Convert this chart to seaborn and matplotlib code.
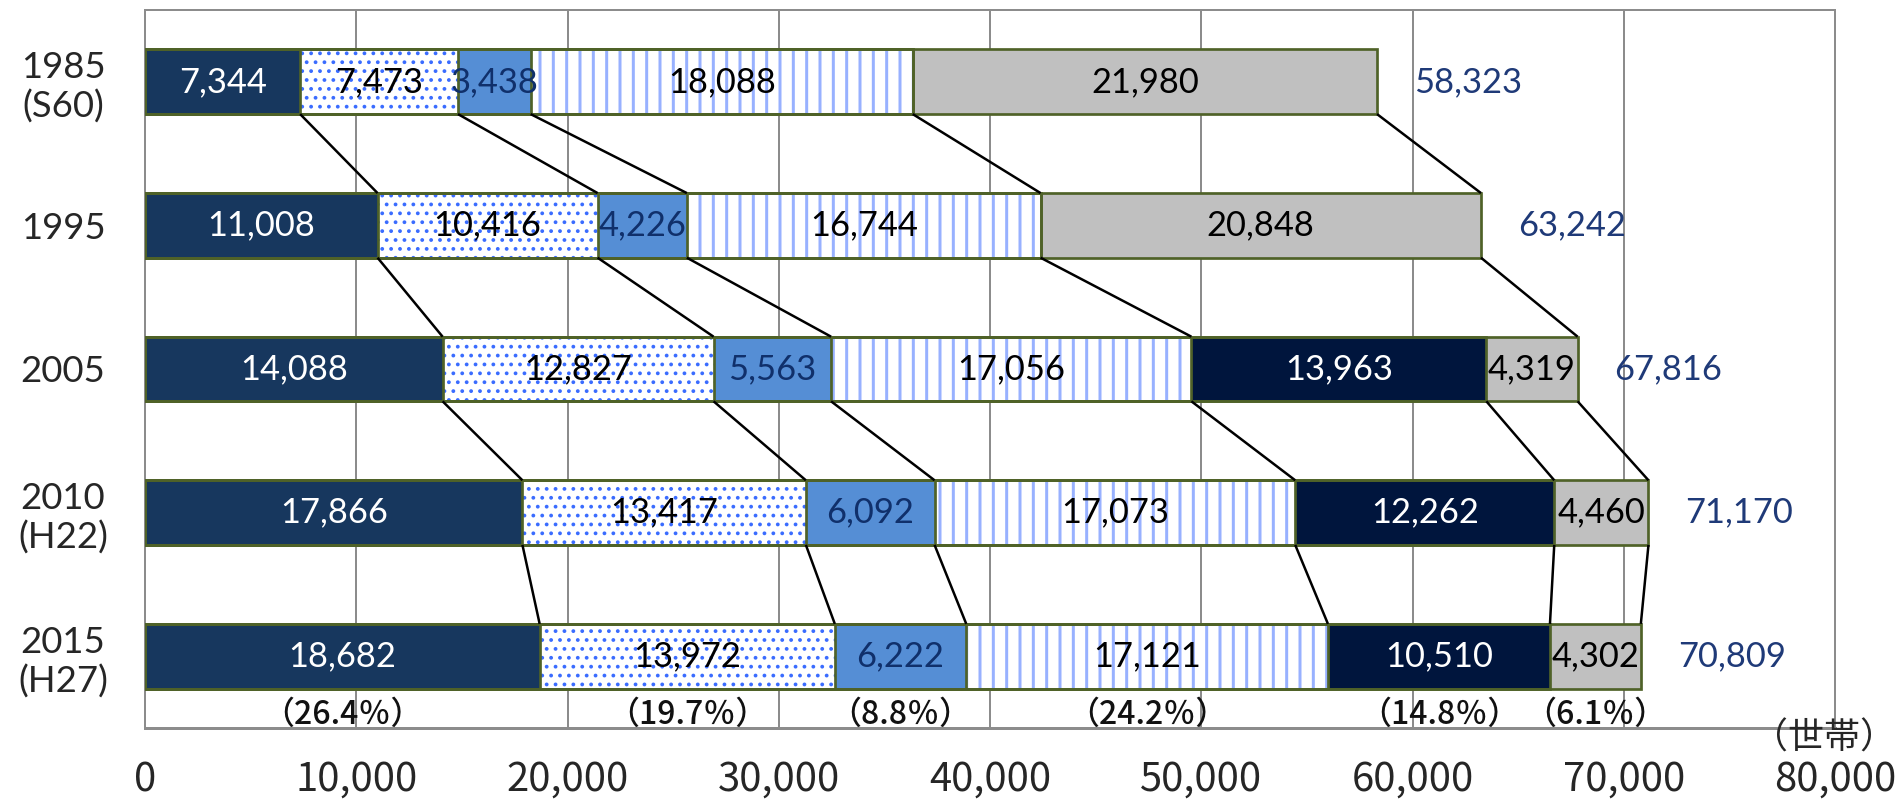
import matplotlib
matplotlib.use("Agg")
import matplotlib.pyplot as plt
from matplotlib import font_manager as fm
import seaborn as sns
import numpy as np
import pandas as pd

# Household counts per survey year, split into six segments (left to right)
years = ["1985\n(S60)", "1995", "2005", "2010\n(H22)", "2015\n(H27)"]
dark_blue = [7344, 11008, 14088, 17866, 18682]
dotted = [7473, 10416, 12827, 13417, 13972]
mid_blue = [3438, 4226, 5563, 6092, 6222]
striped = [18088, 16744, 17056, 17073, 17121]
darkest = [0, 0, 13963, 12262, 10510]
gray = [21980, 20848, 4319, 4460, 4302]
totals = [58323, 63242, 67816, 71170, 70809]

x_ticks = list(range(0, 80001, 10000))
unit_label = "（世帯）"

series = [dark_blue, dotted, mid_blue, striped, darkest, gray]
values = np.array(series)
cum = np.cumsum(values, axis=0)

DPI = 160
W, H = 1897, 802


def pt(px):
    """Convert a size in output pixels to points."""
    return px * 72.0 / DPI


# (face colour, hatch, hatch colour, hatch width px, label colour)
styles = [
    ("#17375E", None, None, 0, "white"),
    ("white", "...", "#3A6CFF", 2.0, "black"),
    ("#558ED5", None, None, 0, "#10306B"),
    ("white", "||", "#98B1FF", 3.0, "black"),
    ("#00153D", None, None, 0, "white"),
    ("#C0C0C0", None, None, 0, "black"),
]
edge_col = "#4F6228"
grid_col = "#8C8C8C"
total_col = "#1F3A78"

sns.set_style("white")
plt.rcParams["font.family"] = ["Lato", "Noto Sans CJK JP", "DejaVu Sans"]
plt.rcParams["hatch.linewidth"] = pt(2.2)

available = {f.name for f in fm.fontManager.ttflist}


def pick(*names):
    for n in names:
        if n in available:
            return n
    return "DejaVu Sans"


gothic = [pick("Noto Sans Mono CJK JP", "Noto Sans CJK JP"), "Noto Sans CJK JP", "DejaVu Sans"]

fig = plt.figure(figsize=(W / DPI, H / DPI), dpi=DPI)
ax = fig.add_axes([145 / W, 1 - 728 / H, (1835 - 145) / W, (728 - 10) / H])

bar_w = 0.45

# fills: cumulative bars drawn longest first so each segment shows its own span
for k in reversed(range(len(series))):
    face, hatch, hcol, hlw, _ = styles[k]
    df = pd.DataFrame({"year": years, "value": cum[k]})
    n0 = len(ax.patches)
    if hatch is None:
        sns.barplot(data=df, x="value", y="year", orient="h", color=face,
                    saturation=1, width=bar_w, linewidth=0, ax=ax, zorder=2)
    else:
        sns.barplot(data=df, x="value", y="year", orient="h", color=face,
                    saturation=1, width=bar_w, linewidth=0, hatch=hatch,
                    edgecolor=hcol, ax=ax, zorder=2)
        for p in ax.patches[n0:]:
            if hasattr(p, "set_hatch_linewidth"):
                p.set_hatch_linewidth(pt(hlw))

# outlines of every segment
for k in range(len(series)):
    df = pd.DataFrame({"year": years, "value": cum[k]})
    sns.barplot(data=df, x="value", y="year", orient="h", color=edge_col,
                saturation=1, width=bar_w, fill=False, linewidth=pt(2.7),
                ax=ax, zorder=3)

# connectors between matching segment boundaries of consecutive years
half = bar_w / 2
for i in range(len(years) - 1):
    for k in range(len(series)):
        if values[k][i] > 0 and values[k][i + 1] > 0:
            ax.plot([cum[k][i], cum[k][i + 1]], [i + half, i + 1 - half],
                    color="black", lw=pt(2.5), zorder=4, solid_capstyle="butt")

# segment value labels
for k in range(len(series)):
    tcol = styles[k][4]
    for i in range(len(years)):
        v = values[k][i]
        if v <= 0:
            continue
        xc = cum[k][i] - v / 2
        ax.text(xc, i, f"{v:,}", ha="center", va="center", fontsize=pt(34.5),
                color=tcol, zorder=5)

# totals to the right of each bar
for i, t in enumerate(totals):
    ax.text(t + 1750, i, f"{t:,}", ha="left", va="center", fontsize=pt(34.5),
            color=total_col, zorder=5)

# shares for the latest year under its bar
last = len(years) - 1
for k in range(len(series)):
    v = values[k][last]
    share = v / totals[last] * 100
    xc = cum[k][last] - v / 2
    ax.text(xc, last + 0.41, f"（{share:.1f}％）", ha="center", va="center",
            fontsize=pt(32), fontweight="medium", family=gothic, color="#111111",
            zorder=5)

ax.set_xlim(0, 80000)
ax.set_ylim(len(years) - 0.5, -0.5)
ax.set_xlabel("")
ax.set_ylabel("")

ax.set_xticks(x_ticks)
ax.set_xticklabels([f"{v:,}" for v in x_ticks], fontsize=pt(40), family=gothic)
ax.tick_params(axis="x", length=0, pad=pt(32))

ax.set_yticks(range(len(years)))
ax.set_yticklabels(years, fontsize=pt(36.5), ha="center", linespacing=1.2)
ax.tick_params(axis="y", which="major", length=0, pad=pt(82))
ax.set_yticks(np.arange(-0.5, len(years)), minor=True)
ax.tick_params(axis="y", which="minor", length=pt(13), width=pt(2), color=grid_col,
               direction="out")

ax.grid(axis="x", color=grid_col, lw=pt(2))
ax.grid(axis="y", visible=False)
ax.set_axisbelow(True)

for side in ["left", "top", "right"]:
    ax.spines[side].set_visible(True)
    ax.spines[side].set_color(grid_col)
    ax.spines[side].set_linewidth(pt(2))
ax.spines["bottom"].set_color(grid_col)
ax.spines["bottom"].set_linewidth(pt(3))

fig.text(1896 / W, 1 - 739 / H, unit_label, ha="right", va="center",
         fontsize=pt(36), family=["Noto Sans CJK JP"])

fig.savefig("out.png", dpi=DPI, facecolor="white")
